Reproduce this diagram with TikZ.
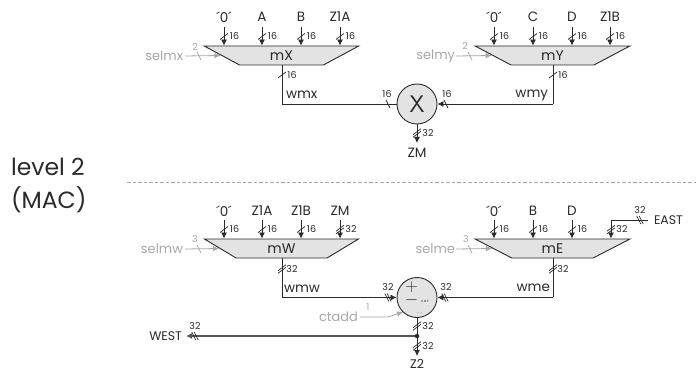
\documentclass[tikz,border=0pt]{standalone}
\usepackage{fontspec}
\setmainfont{Poppins}
\usetikzlibrary{shapes.geometric,arrows.meta,calc}
\definecolor{ln}{HTML}{2A2A2A}
\definecolor{gr}{HTML}{A8A8A8}
\definecolor{fl}{HTML}{E3E3E3}
\newcount\lblc
\newcommand{\lab}[4][]{\global\advance\lblc by 1 \node[txt,#1] (t\the\lblc) at (#2,#3) {#4};}
\newcommand{\stv}[2]{\draw[tickm] (#1-4,#2+3)--(#1+4,#2-3);}
\newcommand{\dtv}[2]{\draw[tickm] (#1-4,#2+1.7)--(#1+4,#2-4.3);\draw[tickm] (#1-4,#2+4.3)--(#1+4,#2-1.7);}
\newcommand{\sth}[2]{\draw[tickm] (#1-2,#2-4)--(#1+2,#2+4);}
\newcommand{\dth}[2]{\draw[tickm] (#1-3.2,#2-4)--(#1+.8,#2+4);\draw[tickm] (#1-.8,#2-4)--(#1+3.2,#2+4);}
\newcommand{\inp}[6]{% mux, name, x, ytop, label text, width
  \coordinate (#2) at (#3,#4);
  \draw[bus] (#2) -- (#2 |- #1.north);
  \lab[small]{#3+#6}{#4+9.5}{#5}
  \ifnum#5=16 \stv{#3}{#4+9.5}\else\dtv{#3}{#4+9.5}\fi
}
\tikzset{
  txt/.style={inner sep=0pt,outer sep=0pt,text=ln,font=\fontsize{13.5}{14}\selectfont},
  small/.style={font=\fontsize{9.5}{10}\selectfont},
  tiny/.style={font=\fontsize{3.5}{4}\selectfont},
  big/.style={font=\fontsize{23.5}{24}\selectfont},
  sel/.style={text=gr,font=\fontsize{13}{13}\selectfont},
  grayt/.style={text=gr},
  mux/.style={trapezium,shape border rotate=180,trapezium stretches=true,trapezium left angle=45,trapezium right angle=45,
    minimum width=155pt,minimum height=19pt,inner sep=0pt,draw=ln,fill=fl,line width=.9pt,text=ln,font=\fontsize{14}{14}\selectfont},
  op/.style={circle,minimum size=40pt,inner sep=0pt,draw=ln,fill=fl,line width=.9pt,text=ln,font=\sffamily\fontsize{24}{24}\selectfont},
  bus/.style={draw=ln,line width=.8pt,-{Latex[length=6pt,width=6pt]}},
  wire/.style={draw=ln,line width=.8pt},
  thick wire/.style={draw=ln!80,line width=1.2pt},
  sela/.style={draw=gr,line width=.8pt,-{Latex[length=6.5pt,width=5.5pt]}},
  tickm/.style={draw=ln,line width=.7pt},
  tickg/.style={draw=gr,line width=.7pt},
  dotn/.style={circle,fill=ln,minimum size=4.5pt,inner sep=0pt},
  sep/.style={draw=gr,dashed,dash pattern=on 3.5pt off 2pt,line width=.6pt},
}
\begin{document}
\begin{tikzpicture}[x=1pt,y=-1pt]
\useasboundingbox (0,0) rectangle (696,371);
% left title
\lab[big,anchor=base west]{11}{176}{level 2}
\lab[big,anchor=base west]{11}{209}{(MAC)}
\coordinate (sepl) at (127,182); \coordinate (sepr) at (696,182);
\draw[sep] (sepl) -- (sepr);
% muxes
\node[mux] (mX) at (281.5,55.5) {mX};
\node[mux] (mY) at (552.5,55.5) {mY};
\node[mux] (mW) at (281.5,248.5) {mW};
\node[mux] (mE) at (552.5,248.5) {mE};
\node[op] (opx) at (417,104) {X};
\node[op] (opa) at (417,297.5) {};
\lab[font=\fontsize{17}{17}\selectfont]{411.5}{291}{\smash{$+$}}
\lab[font=\fontsize{17}{17}\selectfont]{411.5}{305}{\smash{$-$}}
\lab[tiny]{425}{301}{s a t}
\lab[tiny,grayt]{419.5}{314}{c o}
% mX inputs
\inp{mX}{xa}{224}{27}{16}{10.5} \inp{mX}{xb}{262}{27}{16}{10.5} \inp{mX}{xc}{301}{27}{16}{10.5} \inp{mX}{xd}{340}{27}{16}{10.5}
\lab{224}{17}{´0´} \lab{262}{17}{A} \lab{301}{17}{B} \lab{340}{17}{Z1A}
% mY inputs
\inp{mY}{ya}{494}{27}{16}{10.5} \inp{mY}{yb}{533}{27}{16}{10.5} \inp{mY}{yc}{572}{27}{16}{10.5} \inp{mY}{yd}{610}{27}{16}{10.5}
\lab{494}{17}{´0´} \lab{533}{17}{C} \lab{572}{17}{D} \lab{610}{17}{Z1B}
% mW inputs
\inp{mW}{wa}{224}{220}{16}{10.5} \inp{mW}{wb}{262}{220}{16}{10.5} \inp{mW}{wc}{301}{220}{16}{10.5} \inp{mW}{wd}{340}{220}{32}{11}
\lab{224}{211}{´0´} \lab{262}{211}{Z1A} \lab{301}{211}{Z1B} \lab{340}{211}{ZM}
% mE inputs
\inp{mE}{ea}{494}{220}{16}{10.5} \inp{mE}{eb}{533}{220}{16}{10.5} \inp{mE}{ec}{572}{220}{16}{10.5}
\lab{494}{211}{´0´} \lab{533}{211}{B} \lab{572}{211}{D}
% EAST
\lab[anchor=west,font=\fontsize{12.5}{13}\selectfont]{654}{220}{EAST}
\coordinate (eastc) at (648,220); \coordinate (eastk) at (611,220);
\draw[wire] (eastc) -- (eastk);
\draw[bus] (eastk) -- (eastk |- mE.north);
\dth{640}{220} \lab[small]{640}{210}{32}
\dtv{611}{229.5} \lab[small]{622}{229.5}{32}
% selects
\lab[sel,anchor=east]{183}{56}{selmx}
\coordinate (sx) at (185,56); \draw[sela] (sx) -- (mX.west);
\draw[tickg] (197,52)--(201,60); \lab[small,grayt]{195}{47}{2}
\lab[sel,anchor=east]{455}{56}{selmy}
\coordinate (sy) at (456,56); \draw[sela] (sy) -- (mY.west);
\draw[tickg] (468,52)--(472,60); \lab[small,grayt]{465}{46}{2}
\lab[sel,anchor=east]{183}{249}{selmw}
\coordinate (sw) at (185,249); \draw[sela] (sw) -- (mW.west);
\draw[tickg] (197,245)--(201,253); \lab[small,grayt]{195}{239}{3}
\lab[sel,anchor=east]{455}{249}{selme}
\coordinate (se) at (456,249); \draw[sela] (se) -- (mE.west);
\draw[tickg] (468,245)--(472,253); \lab[small,grayt]{466}{239}{3}
% X wires
\coordinate (xk) at (282,104); \coordinate (yk) at (553,104);
\draw[wire] (xk |- mX.south) -- (xk) -- (opx.west);
\draw[wire] (yk |- mY.south) -- (yk);
\draw[bus] (yk) -- (opx.east);
\stv{282}{75} \lab[small]{292}{75}{16}
\stv{553}{75} \lab[small]{563}{75}{16}
\sth{388}{104} \lab[small]{387}{94}{16}
\sth{446}{104} \lab[small]{447}{94}{16}
\lab[anchor=west]{286}{95}{wmx}
\lab[anchor=east]{548}{95}{wmy}
\coordinate (zm) at (417,143);
\draw[bus] (opx.south) -- (zm);
\dtv{417}{133} \lab[small]{428}{133}{32}
\lab{417}{153}{ZM}
% Add wires
\coordinate (wk) at (282,297.5); \coordinate (ek) at (553,297.5);
\draw[wire] (wk |- mW.south) -- (wk);
\draw[bus] (wk) -- (opa.west);
\draw[wire] (ek |- mE.south) -- (ek);
\draw[bus] (ek) -- (opa.east);
\dtv{282}{269} \lab[small]{292}{269}{32}
\dtv{553}{269} \lab[small]{563}{269}{32}
\dth{388}{297.5} \lab[small]{388}{287}{32}
\dth{445}{297.5} \lab[small]{446}{287}{32}
\lab[anchor=west]{284}{289}{wmw}
\lab[anchor=east]{550}{288}{wme}
% ctadd
\lab[sel,anchor=east]{358}{317}{ctadd}
\coordinate (ct) at (360,317); \coordinate (ctk) at (388,317); \coordinate (cte) at (403.5,312);
\draw[sela] (ct) -- (ctk) -- (cte);
\lab[small,grayt]{368}{307}{1}
% output
\node[dotn] (jn) at (417,336) {};
\coordinate (z2) at (417,356); \coordinate (wst) at (186,336);
\draw[wire] (opa.south) -- (jn);
\draw[bus] (jn) -- (z2);
\draw[thick wire,-{Latex[length=6pt,width=6pt]}] (jn) -- (wst);
\dtv{417}{326} \lab[small]{428}{326}{32}
\dtv{417}{346} \lab[small]{428}{346}{32}
\dth{195}{336} \lab[small]{195}{326}{32}
\lab[anchor=base,font=\fontsize{12.5}{13}\selectfont]{417}{368}{Z2}
\lab[anchor=east,font=\fontsize{12.5}{13}\selectfont]{182}{336}{WEST}
\end{tikzpicture}
\end{document}
